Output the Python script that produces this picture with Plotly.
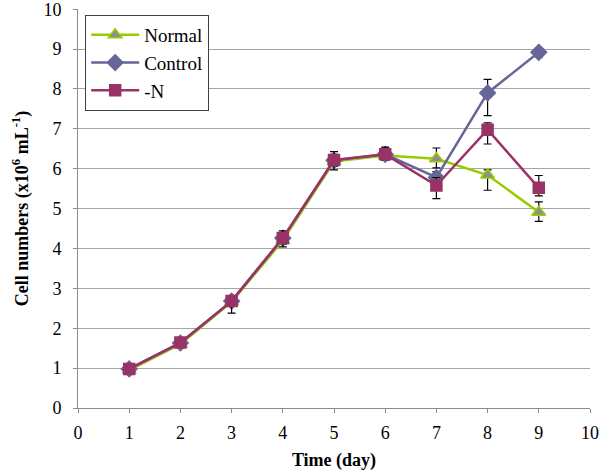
import plotly.graph_objects as go

days = [1, 2, 3, 4, 5, 6, 7, 8, 9]
normal = [0.95, 1.60, 2.66, 4.20, 6.18, 6.33, 6.25, 5.84, 4.91]
control = [0.98, 1.63, 2.68, 4.26, 6.21, 6.36, 5.78, 7.90, 8.92]
minus_n = [0.98, 1.64, 2.68, 4.26, 6.22, 6.36, 5.58, 6.98, 5.52]

normal_err_plus = [0.03, 0.05, 0.10, 0.10, 0.10, 0.10, 0.27, 0.13, 0.26]
normal_err_minus = [0.03, 0.05, 0.10, 0.10, 0.10, 0.10, 0.23, 0.38, 0.23]
control_err_plus = [0.03, 0.05, 0.10, 0.10, 0.15, 0.15, 0.15, 0.34, 0.10]
control_err_minus = [0.03, 0.05, 0.10, 0.10, 0.15, 0.15, 0.15, 0.57, 0.12]
minus_n_err_plus = [0.03, 0.10, 0.10, 0.18, 0.21, 0.18, 0.20, 0.17, 0.31]
minus_n_err_minus = [0.03, 0.10, 0.30, 0.22, 0.25, 0.10, 0.33, 0.36, 0.20]

x_ticks = [0, 1, 2, 3, 4, 5, 6, 7, 8, 9, 10]
y_ticks = [0, 1, 2, 3, 4, 5, 6, 7, 8, 9, 10]

series = [
    ("Normal", normal, normal_err_plus, normal_err_minus, "#99CC00", "#8E8E8E", "triangle-up", 12),
    ("Control", control, control_err_plus, control_err_minus, "#666699", "#666699", "diamond", 12),
    ("-N", minus_n, minus_n_err_plus, minus_n_err_minus, "#993366", "#993366", "square", 11),
]

fig = go.Figure()
for name, vals, ep, em, lc, fc, sym, sz in series:
    fig.add_trace(go.Scatter(
        x=days, y=vals, name=name, mode="lines+markers",
        line=dict(color=lc, width=2.5),
        marker=dict(symbol=sym, size=sz, color=fc, line=dict(color=lc, width=1.5)),
        error_y=dict(type="data", array=ep, arrayminus=em, symmetric=False,
                     color="black", thickness=1.2, width=4),
    ))

font = "Times New Roman, Liberation Serif, serif"
fig.update_layout(
    width=600, height=471,
    margin=dict(l=78, r=10, t=9, b=63),
    paper_bgcolor="white", plot_bgcolor="white",
    font=dict(family=font, size=18, color="black"),
    showlegend=True,
    legend=dict(x=0.014, y=0.985, xanchor="left", yanchor="top",
                bordercolor="#404040", borderwidth=1, bgcolor="white",
                font=dict(family=font, size=19), itemwidth=48,
                tracegroupgap=0),
    xaxis=dict(range=[0, 10], tickvals=x_ticks, showgrid=False,
               showline=True, linecolor="#8C8C8C", linewidth=1,
               ticks="outside", ticklen=4, tickcolor="#8C8C8C",
               zeroline=False, ticklabeloverflow="allow", ticklabelstandoff=4,
               tickfont=dict(family=font, size=18), automargin=False,
               title=dict(text="<b>Time (day)</b>", font=dict(family=font, size=18), standoff=14)),
    yaxis=dict(range=[0, 10.005], tickvals=y_ticks, showgrid=True,
               gridcolor="#A6A6A6", gridwidth=1,
               showline=True, linecolor="#8C8C8C", linewidth=1,
               ticks="outside", ticklen=4, tickcolor="#8C8C8C",
               zeroline=False, ticklabeloverflow="allow", ticklabelstandoff=8,
               tickfont=dict(family=font, size=18), automargin=False,
               title=dict(text="<b>Cell numbers (x10<sup>6</sup> mL<sup>-1</sup>)</b>",
                          font=dict(family=font, size=18), standoff=10)),
)

fig.write_html("out.html", config={"displayModeBar": False},
               post_script="document.body.style.margin='0';document.body.style.padding='0';")
